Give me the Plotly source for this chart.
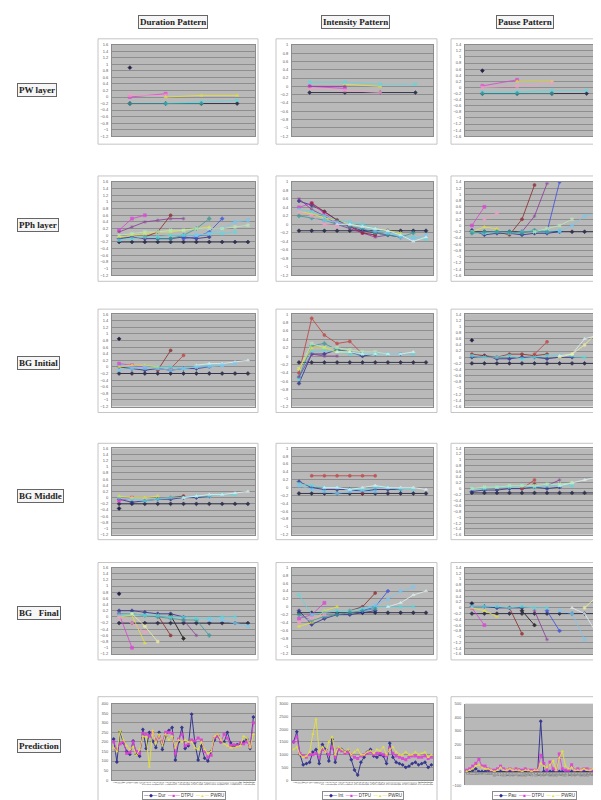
import plotly.graph_objects as go

W, H = 601, 800

COL_TITLES = ["Duration Pattern", "Intensity Pattern", "Pause Pattern"]
ROW_TITLES = ["PW layer", "PPh layer", "BG Initial", "BG Middle", "BG   Final", "Prediction"]

X_PW = [1, 2, 3, 4]
X_STEP = [1, 2, 3, 4, 5, 6, 7, 8, 9, 10, 11]
X_PRED = [1, 2, 3, 4, 5, 6, 7, 8, 9, 10, 11, 12, 13, 14, 15, 16, 17, 18, 19, 20, 21, 22,
          23, 24, 25, 26, 27, 28, 29, 30, 31, 32, 33, 34, 35, 36, 37, 38, 39, 40, 41, 42, 43, 44]

N = None

# ---------------- PW layer ----------------
PW_DUR = {
    "base": [-0.2, -0.2, -0.2, -0.2],
    "dark": [0.9, N, N, N],
    "mag": [0.0, 0.1, N, N],
    "pink": [0.05, 0.05, N, N],
    "yel": [N, 0.0, 0.05, 0.05],
    "cyan": [N, -0.2, -0.15, -0.1],
    "teal": [-0.2, -0.2, -0.2, N],
}
PW_INT = {
    "base": [-0.15, -0.15, -0.15, -0.15],
    "mag": [0.0, -0.05, N, N],
    "pink": [-0.05, -0.1, -0.15, N],
    "yel": [N, 0.05, 0.0, N],
    "cyan": [0.1, 0.1, 0.05, 0.05],
    "pur": [0.0, 0.0, N, N],
}
PW_PAU = {
    "base": [-0.2, -0.2, -0.2, -0.2],
    "dark": [0.55, N, N, N],
    "mag": [0.05, 0.25, N, N],
    "yel": [N, 0.2, 0.2, N],
    "pink": [0.0, 0.05, 0.15, N],
    "cyan": [-0.15, -0.15, -0.1, -0.1],
    "teal": [-0.2, -0.2, -0.2, N],
}

# ---------------- PPh layer ----------------
PPH_DUR = {
    "base": [-0.2, -0.2, -0.2, -0.2, -0.2, -0.2, -0.2, -0.2, -0.2, -0.2, -0.2],
    "navy": [-0.1, -0.05, -0.1, -0.1, -0.1, -0.05, -0.1, -0.05, N, N, N],
    "mag": [0.15, 0.5, 0.6, N, N, N, N, N, N, N, N],
    "pur": [0.1, 0.25, 0.4, 0.45, 0.5, 0.5, N, N, N, N, N],
    "yel": [-0.05, 0.0, 0.05, 0.1, 0.1, 0.15, 0.2, 0.25, N, N, N],
    "mar": [N, N, -0.05, 0.1, 0.6, N, N, N, N, N, N],
    "teal": [N, N, N, -0.1, -0.1, 0.0, 0.2, 0.5, N, N, N],
    "blue": [N, N, N, N, N, -0.1, -0.05, 0.1, 0.5, N, N],
    "cyan": [-0.15, -0.1, -0.05, -0.05, 0.0, 0.0, 0.0, 0.05, 0.05, 0.1, N],
    "sky": [N, N, N, N, N, N, 0.0, 0.05, 0.2, 0.4, 0.45],
    "lgreen": [0.0, 0.05, 0.1, 0.1, 0.15, 0.15, 0.2, 0.2, 0.2, 0.25, 0.3],
}
PPH_INT = {
    "base": [-0.15, -0.15, -0.15, -0.15, -0.15, -0.15, -0.15, -0.15, -0.15, -0.15, -0.15],
    "navy": [0.55, 0.45, 0.3, 0.1, -0.05, -0.15, -0.2, -0.25, -0.3, N, N],
    "mag": [0.4, 0.5, 0.25, 0.05, -0.05, -0.2, -0.25, N, N, N, N],
    "pur": [0.6, 0.35, 0.2, 0.0, -0.1, -0.2, -0.3, -0.25, N, N, N],
    "yel": [0.3, 0.25, 0.15, 0.1, 0.0, -0.05, -0.1, -0.15, -0.2, N, N],
    "cyan": [0.35, 0.3, 0.2, 0.1, 0.05, 0.0, -0.1, -0.2, -0.25, -0.3, -0.35],
    "mar": [N, 0.5, 0.3, 0.1, -0.05, -0.2, -0.25, N, N, N, N],
    "teal": [0.2, 0.15, 0.1, 0.0, -0.05, -0.1, -0.2, -0.25, -0.3, -0.2, N],
    "sky": [N, N, 0.1, 0.05, 0.0, -0.05, -0.15, -0.2, -0.3, -0.35, -0.25],
    "pale": [N, N, N, 0.0, 0.0, -0.05, -0.1, -0.15, -0.25, -0.4, -0.3],
    "pink": [0.3, 0.2, 0.0, -0.05, N, N, N, N, N, N, N],
}
PPH_PAU = {
    "base": [-0.2, -0.2, -0.2, -0.2, -0.2, -0.2, -0.2, -0.2, -0.2, -0.2, -0.2],
    "navy": [-0.15, -0.3, -0.25, -0.25, -0.3, -0.25, -0.25, -0.2, N, N, N],
    "mag": [0.0, 0.6, N, N, N, N, N, N, N, N, N],
    "yel": [-0.2, -0.05, -0.1, N, N, N, N, N, N, N, N],
    "mar": [N, N, -0.2, -0.3, 0.2, 1.3, N, N, N, N, N],
    "pur": [N, N, N, N, -0.2, 0.3, 1.35, N, N, N, N],
    "blue": [N, N, N, N, N, N, -0.2, 1.4, N, N, N],
    "cyan": [-0.2, -0.25, -0.2, -0.25, -0.2, -0.2, -0.2, -0.15, N, N, N],
    "teal": [-0.25, -0.2, -0.2, -0.2, -0.25, -0.15, -0.2, N, N, N, N],
    "sky": [N, N, N, N, N, N, N, -0.2, 0.0, 0.3, 0.4],
    "lgreen": [N, N, N, N, N, -0.2, -0.1, 0.0, 0.2, N, N],
    "pink": [N, 0.2, 0.4, N, N, N, N, N, N, N, N],
}

# ---------------- BG Initial ----------------
BGI_DUR = {
    "base": [-0.2, -0.2, -0.2, -0.2, -0.2, -0.2, -0.2, -0.2, -0.2, -0.2, -0.2],
    "dark": [0.85, N, N, N, N, N, N, N, N, N, N],
    "navy": [0.0, -0.05, -0.1, -0.05, -0.1, -0.05, -0.05, 0.0, N, N, N],
    "mar": [N, N, N, -0.1, 0.5, N, N, N, N, N, N],
    "red": [N, N, N, N, -0.05, 0.35, N, N, N, N, N],
    "cyan": [0.05, 0.0, -0.05, 0.0, 0.0, -0.05, 0.0, 0.05, 0.05, N, N],
    "mag": [0.1, 0.05, 0.0, N, N, N, N, N, N, N, N],
    "pale": [N, N, N, N, N, N, 0.05, 0.1, 0.1, 0.15, 0.2],
    "yel": [0.0, 0.05, 0.05, 0.0, N, N, N, N, N, N, N],
    "sky": [-0.1, -0.05, 0.0, -0.05, -0.1, -0.05, 0.0, 0.0, 0.05, 0.1, N],
}
BGI_INT = {
    "base": [-0.15, -0.15, -0.15, -0.15, -0.15, -0.15, -0.15, -0.15, -0.15, -0.15, -0.15],
    "navy": [-0.65, 0.05, 0.05, 0.15, 0.1, 0.0, 0.05, 0.05, 0.05, N, N],
    "red": [-0.4, 0.9, 0.5, 0.3, 0.35, 0.05, N, N, N, N, N],
    "teal": [-0.5, 0.25, 0.3, 0.15, 0.1, 0.05, 0.05, N, N, N, N],
    "lgreen": [-0.3, 0.3, 0.2, 0.2, 0.15, 0.1, 0.1, 0.05, N, N, N],
    "cyan": [-0.55, 0.1, 0.15, 0.1, 0.05, 0.05, 0.05, 0.05, 0.05, 0.05, N],
    "pur": [-0.5, 0.05, 0.0, 0.0, N, N, N, N, N, N, N],
    "yel": [-0.3, 0.2, 0.2, 0.1, 0.1, N, N, N, N, N, N],
    "pale": [N, N, N, 0.1, 0.1, 0.05, 0.05, 0.05, 0.05, 0.1, N],
}
BGI_PAU = {
    "base": [-0.2, -0.2, -0.2, -0.2, -0.2, -0.2, -0.2, -0.2, -0.2, -0.2, -0.2],
    "dark": [0.55, N, N, N, N, N, N, N, N, N, N],
    "navy": [0.0, 0.05, -0.05, -0.05, 0.0, 0.0, -0.05, 0.0, 0.0, N, N],
    "mar": [0.1, 0.05, 0.0, 0.1, 0.1, 0.05, 0.1, N, N, N, N],
    "red": [N, N, N, N, N, 0.1, 0.5, N, N, N, N],
    "cyan": [0.05, 0.0, 0.0, 0.05, -0.05, 0.0, 0.05, 0.05, 0.05, 0.0, N],
    "pale": [N, N, N, N, N, N, N, 0.05, 0.1, 0.6, 0.7],
    "lyel": [N, N, N, N, N, N, N, 0.0, 0.1, 0.4, 0.8],
}

# ---------------- BG Middle ----------------
BGM_DUR = {
    "base": [-0.2, -0.2, -0.2, -0.2, -0.2, -0.2, -0.2, -0.2, -0.2, -0.2, -0.2],
    "dark": [-0.35, N, N, N, N, N, N, N, N, N, N],
    "navy": [-0.05, -0.15, -0.1, -0.05, -0.05, 0.0, 0.0, 0.05, N, N, N],
    "mag": [-0.1, 0.0, N, N, N, N, N, N, N, N, N],
    "mar": [N, N, N, N, 0.0, 0.05, N, N, N, N, N],
    "cyan": [0.0, -0.05, -0.1, -0.05, 0.0, 0.0, 0.05, 0.05, 0.1, 0.1, N],
    "pale": [N, N, N, N, N, 0.0, 0.05, 0.1, 0.1, 0.15, 0.2],
    "yel": [0.05, 0.0, 0.0, 0.05, N, N, N, N, N, N, N],
}
BGM_INT = {
    "base": [-0.15, -0.15, -0.15, -0.15, -0.15, -0.15, -0.15, -0.15, -0.15, -0.15, -0.15],
    "navy": [0.15, 0.0, -0.05, -0.05, -0.05, -0.1, -0.05, -0.05, -0.05, N, N],
    "red": [N, 0.3, 0.3, 0.3, 0.3, 0.3, 0.3, N, N, N, N],
    "cyan": [0.1, 0.05, 0.0, 0.0, -0.05, -0.05, 0.0, 0.0, -0.05, -0.05, N],
    "sky": [0.05, -0.05, -0.1, -0.15, -0.1, -0.1, -0.1, N, N, N, N],
    "pale": [N, N, 0.0, 0.0, -0.05, 0.0, 0.05, 0.0, 0.0, 0.0, -0.05],
    "mar": [N, N, N, N, N, -0.15, N, N, N, N, N],
}
BGM_PAU = {
    "base": [-0.15, -0.15, -0.15, -0.15, -0.15, -0.15, -0.15, -0.15, -0.15, -0.15, -0.15],
    "navy": [-0.1, -0.05, -0.05, 0.0, 0.0, 0.05, 0.0, 0.05, N, N, N],
    "red": [N, N, N, N, 0.0, 0.3, N, N, N, N, N],
    "mar": [N, N, N, N, N, 0.15, N, N, N, N, N],
    "pur": [N, N, N, N, N, N, 0.1, 0.3, N, N, N],
    "cyan": [0.0, 0.0, 0.05, 0.05, 0.1, 0.05, 0.1, 0.1, 0.1, N, N],
    "pale": [N, N, N, N, N, N, N, 0.1, 0.2, 0.3, 0.4],
    "lgreen": [0.0, 0.05, 0.05, 0.1, 0.1, 0.1, 0.15, 0.15, 0.2, N, N],
}

# ---------------- BG Final ----------------
BGF_DUR = {
    "base": [-0.2, -0.2, -0.2, -0.2, -0.2, -0.2, -0.2, -0.2, -0.2, -0.2, -0.2],
    "dark": [0.75, N, N, N, N, N, N, N, N, N, N],
    "navy": [0.2, 0.2, 0.15, 0.1, 0.1, 0.0, N, N, N, N, N],
    "mag": [0.1, -1.0, N, N, N, N, N, N, N, N, N],
    "yel": [0.0, 0.05, -0.85, N, N, N, N, N, N, N, N],
    "mar": [N, N, N, 0.05, -0.6, N, N, N, N, N, N],
    "blk": [N, N, N, N, 0.05, -0.7, N, N, N, N, N],
    "pur": [N, N, N, N, N, -0.1, -0.6, N, N, N, N],
    "teal": [0.1, 0.1, 0.05, 0.0, -0.05, -0.1, -0.1, -0.6, N, N, N],
    "cyan": [0.05, 0.1, 0.05, 0.05, 0.0, 0.0, -0.05, -0.05, 0.0, 0.0, N],
    "sky": [N, N, N, N, N, N, N, -0.1, -0.1, -0.2, -0.3],
    "pink": [0.0, -0.2, -0.5, N, N, N, N, N, N, N, N],
    "lyel": [N, 0.1, -0.3, -0.8, N, N, N, N, N, N, N],
}
BGF_INT = {
    "base": [-0.15, -0.15, -0.15, -0.15, -0.15, -0.15, -0.15, -0.15, -0.15, -0.15, -0.15],
    "navy": [-0.1, -0.45, -0.3, -0.2, -0.2, -0.15, -0.1, N, N, N, N],
    "mag": [-0.3, -0.2, 0.1, N, N, N, N, N, N, N, N],
    "yel": [-0.5, -0.4, -0.1, 0.0, N, N, N, N, N, N, N],
    "mar": [N, N, N, N, -0.1, 0.0, 0.35, N, N, N, N],
    "blue": [N, N, N, N, N, -0.1, 0.0, 0.4, N, N, N],
    "cyan": [0.3, -0.2, -0.15, -0.1, -0.1, -0.05, 0.0, 0.0, 0.0, 0.0, N],
    "sky": [N, N, N, N, N, -0.05, 0.05, 0.2, 0.4, 0.5, N],
    "pale": [N, N, N, N, N, N, N, 0.0, 0.1, 0.3, 0.4],
    "teal": [-0.2, -0.35, -0.25, -0.2, -0.15, -0.1, -0.05, N, N, N, N],
    "pink": [-0.4, -0.3, -0.2, N, N, N, N, N, N, N, N],
}
BGF_PAU = {
    "base": [-0.2, -0.2, -0.2, -0.2, -0.2, -0.2, -0.2, -0.2, -0.2, -0.2, -0.2],
    "dark": [0.15, N, N, N, N, N, N, N, N, N, N],
    "navy": [0.05, 0.05, 0.0, 0.0, 0.0, N, N, N, N, N, N],
    "mag": [0.0, -0.6, N, N, N, N, N, N, N, N, N],
    "yel": [0.0, -0.1, -0.3, N, N, N, N, N, N, N, N],
    "mar": [N, N, N, 0.0, -0.9, N, N, N, N, N, N],
    "blk": [N, N, N, N, -0.1, -0.6, N, N, N, N, N],
    "pur": [N, N, N, N, N, -0.1, -1.1, N, N, N, N],
    "blue": [N, N, N, N, N, N, -0.1, -0.8, N, N, N],
    "cyan": [0.05, 0.05, 0.05, 0.0, 0.05, 0.0, 0.0, N, N, N, N],
    "sky": [N, N, N, N, N, N, N, -0.1, -0.2, -1.1, N],
    "pale": [N, N, N, N, N, N, N, N, 0.0, -0.2, -0.9],
    "lyel": [N, N, N, N, N, N, N, N, N, 0.0, 0.4],
}

# ---------------- Prediction ----------------
PRED_DUR_ACT = [215, 95, 255, 195, 150, 135, 205, 135, 125, 265, 165, 250, 205, 170, 250, 160, 230, 260,
                275, 105, 200, 275, 165, 180, 345, 195, 105, 180, 115, 100, 150, 210, 235, 200, 200, 250,
                195, 175, 185, 190, 200, 215, 165, 330]
PRED_DUR_P1 = [200, 160, 190, 200, 140, 145, 200, 150, 140, 245, 240, 230, 250, 210, 225, 200, 250, 250,
               245, 140, 215, 240, 180, 190, 210, 205, 220, 210, 150, 120, 130, 225, 230, 200, 240, 220,
               180, 185, 180, 195, 190, 200, 175, 300]
PRED_DUR_P2 = [170, 150, 260, 210, 180, 160, 175, 130, 160, 230, 225, 70, 260, 190, 240, 180, 240, 210,
               230, 170, 210, 200, 210, 200, 200, 170, 160, 200, 160, 140, 150, 230, 240, 210, 190, 180,
               170, 170, 175, 180, 230, 220, 170, 240]
PRED_INT_ACT = [1500, 1900, 1000, 600, 650, 700, 1100, 1200, 650, 1400, 1200, 750, 1600, 700, 1250, 1200,
                1100, 1150, 800, 400, 200, 700, 900, 1100, 1200, 950, 900, 1000, 950, 650, 1450, 900,
                700, 650, 600, 500, 550, 650, 700, 600, 650, 700, 500, 600]
PRED_INT_P1 = [1500, 1700, 1050, 950, 900, 1000, 1000, 1050, 900, 1200, 1150, 1000, 1300, 900, 1200, 1150,
               1050, 1100, 1000, 900, 850, 950, 1000, 1050, 1100, 1000, 1050, 1050, 1000, 950, 1250, 1050,
               950, 900, 850, 800, 900, 950, 950, 900, 900, 950, 850, 900]
PRED_INT_P2 = [1200, 1300, 1000, 900, 950, 1100, 1800, 2400, 1100, 1300, 1100, 1500, 1700, 1000, 1300, 1200,
               1100, 1200, 1000, 1100, 1200, 1000, 1000, 1100, 1150, 1050, 1200, 1150, 1300, 1000, 1200, 1300,
               1100, 1000, 1000, 1100, 1000, 1000, 1100, 1000, 1050, 1100, 900, 1000]
PRED_PAU_ACT = [0, 0, 10, 20, 0, 0, 0, 10, 0, 0, 0, 0, 0, 0, 0, 0, 0, 10, 0, 0, 0, 0, 0, 0, 370, 0,
                0, 0, 0, 0, 0, 0, 0, 0, 0, 0, 0, 0, 0, 0, 0, 0, 0, 310]
PRED_PAU_P1 = [10, 20, 40, 60, 90, 40, 40, 20, 10, 10, 20, 40, 20, 10, 20, 10, 20, 10, 10, 20, 10, 10,
               10, 10, 120, 60, 10, 70, 20, 10, 130, 20, 10, 10, 50, 10, 20, 10, 20, 20, 10, 10, 10, 300]
PRED_PAU_P2 = [0, 10, 20, 40, 50, 30, 20, 20, 10, 0, 10, 30, 10, 10, 20, 10, 10, 10, 0, 10, 10, 0,
               10, 10, 60, 40, 30, 50, 80, 10, 100, 150, 40, 20, 30, 10, 10, 10, 20, 10, 10, 20, 10, 20]
PRED_NAMES = [["Dur", "DTPU", "PWRU"], ["Int", "DTPU", "PWRU"], ["Pau", "DTPU", "PWRU"]]

Y_RANGES = [[-1.2, 1.6], [-1.2, 1.0], [-1.6, 1.4]]
PRED_Y = [([0, 400], 50), ([0, 3000], 500), ([-100, 500], 100)]

STYLE = {
    "base": ("#33334d", "diamond"),
    "dark": ("#222244", "diamond"),
    "blk": ("#303030", "diamond"),
    "navy": ("#2b2b8c", "diamond"),
    "mag": ("#e040d8", "square"),
    "yel": ("#e6e23a", "triangle-up"),
    "cyan": ("#5fd8e0", "x"),
    "pur": ("#8a3a9a", "asterisk"),
    "mar": ("#8c2a2a", "circle"),
    "red": ("#c04040", "circle"),
    "teal": ("#3a9a9a", "cross"),
    "blue": ("#3d4fe0", "diamond"),
    "sky": ("#7cc8ef", "square"),
    "pale": ("#dff4f4", "triangle-up"),
    "lgreen": ("#b8ecb8", "x"),
    "lyel": ("#f2f0a0", "circle"),
    "pink": ("#f0a0c8", "square"),
}
PRED_COLORS = ["#2b2b8c", "#e040d8", "#e6e23a"]
PRED_SYMBOLS = ["diamond", "square", "triangle-up"]

# ---------------- layout geometry (pixels) ----------------
COL_X = [(104, 247), (284, 425), (457, 596)]
ROW_Y = [(34, 126), (172, 266), (305, 398), (440, 527), (560, 647), (697, 774)]
COL_BOX = [(90, 250), (268, 429), (443, 600)]
ROW_BOX = [(28, 134), (166, 272), (300, 404), (435, 532), (555, 653), (690, 797)]
ROW_LABEL_Y = [80, 215, 354, 488, 606, 740]
COL_HEAD_X = [165, 347, 517]

PANELS = [
    [PW_DUR, PW_INT, PW_PAU],
    [PPH_DUR, PPH_INT, PPH_PAU],
    [BGI_DUR, BGI_INT, BGI_PAU],
    [BGM_DUR, BGM_INT, BGM_PAU],
    [BGF_DUR, BGF_INT, BGF_PAU],
]
PRED = [
    [PRED_DUR_ACT, PRED_DUR_P1, PRED_DUR_P2],
    [PRED_INT_ACT, PRED_INT_P1, PRED_INT_P2],
    [PRED_PAU_ACT, PRED_PAU_P1, PRED_PAU_P2],
]


def px(x):
    return x / W


def py(y):
    return 1 - y / H


fig = go.Figure()
layout = {}
shapes = []
annotations = []


def axnames(n):
    if n == 1:
        return "xaxis", "yaxis", "x", "y"
    return f"xaxis{n}", f"yaxis{n}", f"x{n}", f"y{n}"


n = 0
for r in range(6):
    for c in range(3):
        n += 1
        xa, ya, xr, yr = axnames(n)
        x0, x1 = COL_X[c]
        y0, y1 = ROW_Y[r]
        if r == 5 and c == 2:
            y1 = 779
            x1 = 593
        tick_font = dict(size=4, color="#5a5a5a", family="Liberation Sans")
        if r < 5:
            xs = X_PW if r == 0 else X_STEP
            for key, ys in PANELS[r][c].items():
                color, sym = STYLE[key]
                op = 1.0 if key in ("base", "dark", "blk") else 0.8
                fig.add_trace(go.Scatter(
                    x=xs, y=ys, mode="lines+markers", opacity=op,
                    line=dict(color=color, width=1),
                    marker=dict(color=color, symbol=sym, size=3,
                                line=dict(color=color, width=0.6)),
                    xaxis=xr, yaxis=yr, showlegend=False, hoverinfo="skip"))
            yrange = Y_RANGES[c]
            dtick = 0.2
            xrange = [0.5, 4.5] if r == 0 else [0.45, 11.55]
            xaxis = dict(domain=[px(x0), px(x1)], anchor=yr, range=xrange,
                         showgrid=False, zeroline=False, showticklabels=False,
                         showline=True, linecolor="#8c8c8c", mirror=True, ticks="")
        else:
            for k, ys in enumerate(PRED[c]):
                fig.add_trace(go.Scatter(
                    x=X_PRED, y=ys, mode="lines+markers", opacity=0.9,
                    line=dict(color=PRED_COLORS[k], width=1),
                    marker=dict(color=PRED_COLORS[k], symbol=PRED_SYMBOLS[k], size=3),
                    xaxis=xr, yaxis=yr, showlegend=False, hoverinfo="skip"))
            yrange, dtick = PRED_Y[c]
            xaxis = dict(domain=[px(x0), px(x1)], anchor=yr, range=[0.5, 44.5],
                         showgrid=False, zeroline=False, showticklabels=True,
                         tickmode="linear", tick0=1, dtick=1, tickangle=90,
                         tickfont=dict(size=3, color="#555555"),
                         showline=True, linecolor="#8c8c8c", mirror=True, ticks="")
            if c == 2:
                frac = (0 - yrange[0]) / (yrange[1] - yrange[0])
                pos = py(y1) + frac * (py(y0) - py(y1))
                xaxis.update(anchor="free", position=pos, mirror=False)
        yaxis = dict(domain=[py(y1), py(y0)], anchor=xr, range=yrange,
                     tickmode="linear", tick0=0, dtick=dtick,
                     showgrid=True, gridcolor="#8e8e8e", gridwidth=1,
                     zeroline=False, showline=True, linecolor="#8c8c8c", mirror=True,
                     ticks="", tickfont=tick_font, ticklabelstandoff=2)
        layout[xa] = xaxis
        layout[ya] = yaxis

        bx0, bx1 = COL_BOX[c]
        by0, by1 = ROW_BOX[r]
        shapes.append(dict(type="rect", xref="paper", yref="paper",
                           x0=px(bx0), x1=px(bx1), y0=py(by1), y1=py(by0),
                           line=dict(color="#c4c4c4", width=1),
                           fillcolor="rgba(0,0,0,0)", layer="below"))

# prediction legends as text boxes
for c in range(3):
    names = PRED_NAMES[c]
    parts = []
    for k in range(3):
        parts.append(f'<span style="color:{PRED_COLORS[k]}">—{["◆", "■", "▲"][k]}—</span> {names[k]}')
    annotations.append(dict(
        x=px(COL_X[c][0] + (COL_X[c][1] - COL_X[c][0]) / 2), y=py(789), xref="paper", yref="paper",
        text="  ".join(parts), showarrow=False, xanchor="center", yanchor="middle",
        font=dict(size=4.5, color="#333333", family="Liberation Sans"),
        bordercolor="#8a8a8a", borderwidth=1, borderpad=1, bgcolor="#ffffff"))

# column headers
for c, t in enumerate(COL_TITLES):
    annotations.append(dict(
        x=px(COL_HEAD_X[c]), y=py(11), xref="paper", yref="paper",
        text=f"<b>{t}</b>", showarrow=False, xanchor="center", yanchor="middle",
        font=dict(size=9, color="#222222", family="Liberation Serif"),
        bordercolor="#666666", borderwidth=1, borderpad=1, bgcolor="#f6f6f6"))

# row labels
for r, t in enumerate(ROW_TITLES):
    annotations.append(dict(
        x=px(9), y=py(ROW_LABEL_Y[r]), xref="paper", yref="paper",
        text=f"<b>{t}</b>", showarrow=False, xanchor="left", yanchor="middle",
        font=dict(size=9, color="#222222", family="Liberation Serif"),
        bordercolor="#666666", borderwidth=1, borderpad=1, bgcolor="#f6f6f6"))

fig.update_layout(
    width=W, height=H,
    margin=dict(l=0, r=0, t=0, b=0),
    paper_bgcolor="#ffffff",
    plot_bgcolor="#b9b9b9",
    showlegend=False,
    shapes=shapes,
    annotations=annotations,
    **layout,
)

fig.write_html("out.html")
